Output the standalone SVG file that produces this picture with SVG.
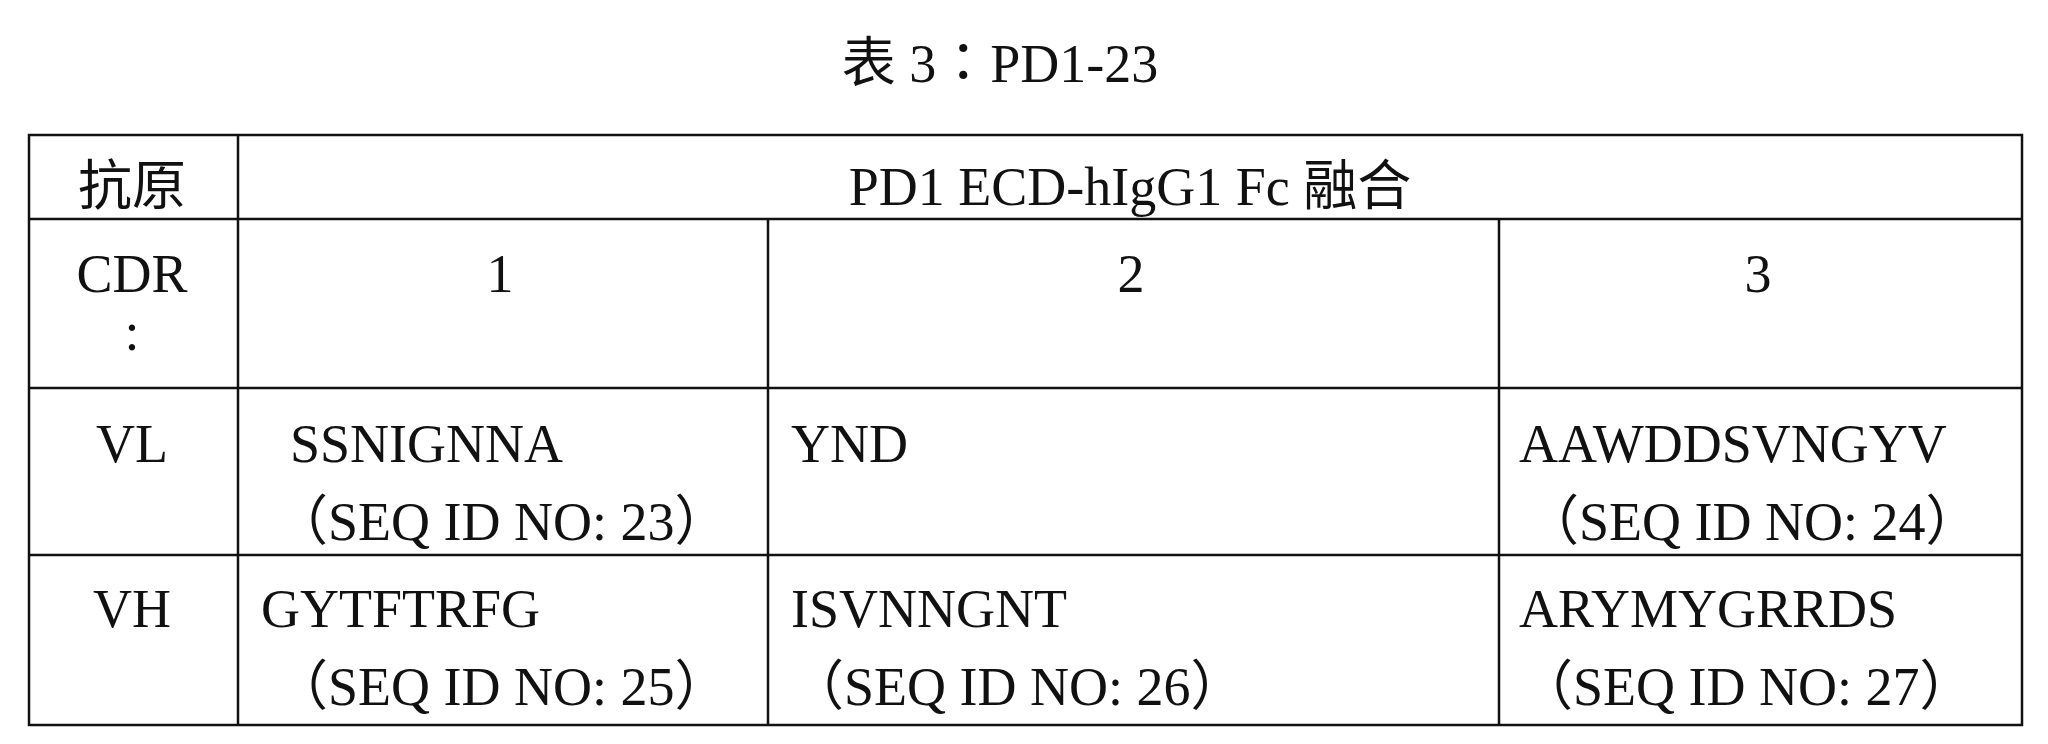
<svg xmlns="http://www.w3.org/2000/svg" width="2048" height="744" viewBox="0 0 2048 744">
<style>
text{font-family:"Liberation Serif","Noto Sans CJK TC",serif;font-size:54px;fill:#111}
.c{text-anchor:middle}
.ln{stroke:#111;stroke-width:2.5;fill:none}
</style>
<rect width="2048" height="744" fill="#fff"/>
<text class="c" x="1000" y="82">表 3：PD1-23</text>
<g id="grid">
<rect class="ln" x="29" y="135" width="1993" height="590" stroke-width="3.5"/>
<line class="ln" x1="29" y1="219" x2="2022" y2="219"/>
<line class="ln" x1="29" y1="388" x2="2022" y2="388"/>
<line class="ln" x1="29" y1="555" x2="2022" y2="555"/>
<line class="ln" x1="238" y1="135" x2="238" y2="725"/>
<line class="ln" x1="768" y1="219" x2="768" y2="725"/>
<line class="ln" x1="1499" y1="219" x2="1499" y2="725"/>
</g>
<g id="header">
<text class="c" x="132" y="205">抗原</text>
<text class="c" x="1130" y="205">PD1 ECD-hIgG1 Fc 融合</text>
<text class="c" x="132" y="292">CDR</text>
<text class="c" x="132" y="350">:</text>
<text class="c" x="500" y="292">1</text>
<text class="c" x="1131" y="292">2</text>
<text class="c" x="1758" y="292">3</text>
</g>
<g id="vl">
<text class="c" x="132" y="462">VL</text>
<text x="290" y="462">SSNIGNNA</text>
<text x="274" y="540">（SEQ ID NO: 23）</text>
<text x="791" y="462">YND</text>
<text x="1519" y="462">AAWDDSVNGYV</text>
<text x="1525" y="540">（SEQ ID NO: 24）</text>
</g>
<g id="vh">
<text class="c" x="132" y="627">VH</text>
<text x="261" y="627">GYTFTRFG</text>
<text x="274" y="705">（SEQ ID NO: 25）</text>
<text x="791" y="627">ISVNNGNT</text>
<text x="790" y="705">（SEQ ID NO: 26）</text>
<text x="1519" y="627">ARYMYGRRDS</text>
<text x="1519" y="705">（SEQ ID NO: 27）</text>
</g>
</svg>
